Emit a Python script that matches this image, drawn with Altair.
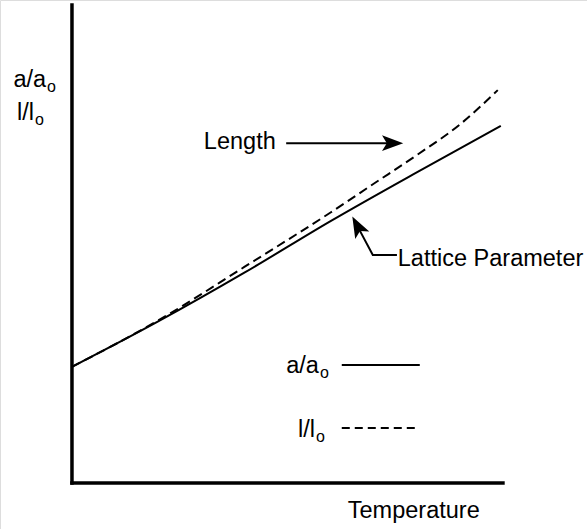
import altair as alt
import pandas as pd

# ---- data (arbitrary units) ----
temp_lattice = [0, 20, 40, 60, 80, 99.5]
lattice = [24.3, 33.8, 44.0, 54.8, 65.0, 74.7]
temp_length = [0, 20, 40, 60, 70, 80, 90, 98.8]
length = [24.3, 34.0, 45.2, 56.6, 62.6, 68.6, 75.0, 82.2]

XDOM = [-16.7, 119.5]
YDOM = [-9.62, 101.05]
FONT = "Liberation Sans"
FS = 23.5
SUB = 16

xs = alt.Scale(domain=XDOM, nice=False, zero=False)
ys = alt.Scale(domain=YDOM, nice=False, zero=False)
X = lambda f: alt.X(f, type="quantitative", scale=xs, axis=None)
Y = lambda f: alt.Y(f, type="quantitative", scale=ys, axis=None)

df_lat = pd.DataFrame({"T": temp_lattice, "V": lattice})
df_len = pd.DataFrame({"T": temp_length, "V": length})

solid = alt.Chart(df_lat).mark_line(color="black", strokeWidth=2, interpolate="monotone").encode(
    x=X("T"), y=Y("V"))
dashed = alt.Chart(df_len).mark_line(color="black", strokeWidth=2, strokeDash=[9, 5],
                                     interpolate="monotone").encode(x=X("T"), y=Y("V"))

# axes as rules
axes_df = pd.DataFrame({"x1": [0, 0], "x2": [0, 100], "y1": [0, 0], "y2": [100, 0]})
axes = alt.Chart(axes_df).mark_rule(color="black", strokeWidth=3.5, strokeCap="square").encode(
    x=X("x1"), x2="x2", y=Y("y1"), y2="y2")

# legend samples
leg_df = pd.DataFrame({"x1": [62.6], "x2": [80.7], "y": [24.7]})
leg_solid = alt.Chart(leg_df).mark_rule(color="black", strokeWidth=2).encode(
    x=X("x1"), x2="x2", y=Y("y"))
leg_df2 = pd.DataFrame({"x1": [62.6], "x2": [80.7], "y": [11.5]})
leg_dash = alt.Chart(leg_df2).mark_rule(color="black", strokeWidth=2, strokeDash=[8, 5]).encode(
    x=X("x1"), x2="x2", y=Y("y"))

# Length arrow
len_arrow_df = pd.DataFrame({"x1": [49.7], "x2": [74.5], "y": [71.1]})
len_arrow = alt.Chart(len_arrow_df).mark_rule(color="black", strokeWidth=2).encode(
    x=X("x1"), x2="x2", y=Y("y"))

HEAD = "M 1 0 L -1 -0.75 L -0.55 0 L -1 0.75 Z"
heads_df = pd.DataFrame({"T": [74.4, 66.2], "V": [71.1, 53.8], "ang": [0, 242]})
heads = alt.Chart(heads_df).mark_point(shape=HEAD, filled=True, color="black", opacity=1,
                                       size=450, strokeWidth=0).encode(
    x=X("T"), y=Y("V"), angle=alt.Angle("ang:Q", scale=None))

# Lattice parameter leader
lead_df = pd.DataFrame({"T": [66.2, 69.8, 75.4], "V": [53.8, 47.7, 47.7], "o": [0, 1, 2]})
leader = alt.Chart(lead_df).mark_line(color="black", strokeWidth=2).encode(
    x=X("T"), y=Y("V"), order="o:O")

# left-aligned labels
lab_df = pd.DataFrame({
    "T": [30.6, 75.6, 64.0],
    "V": [69.9, 45.4, -7.3],
    "txt": ["Length", "Lattice Parameter", "Temperature"],
})
labels = alt.Chart(lab_df).mark_text(align="left", baseline="alphabetic", font=FONT,
                                     fontSize=FS, color="black").encode(
    x=X("T"), y=Y("V"), text="txt:N")

# ratio labels with subscript
ratio_df = pd.DataFrame({
    "T": [-6.0, -8.8, 57.3, 56.4],
    "V": [82.8, 75.9, 23.0, 9.6],
    "txt": ["a/a", "l/l", "a/a", "l/l"],
})
ratio = alt.Chart(ratio_df).mark_text(align="right", baseline="alphabetic", font=FONT,
                                      fontSize=FS, color="black").encode(
    x=X("T"), y=Y("V"), text="txt:N")
sub = alt.Chart(ratio_df.assign(s="o")).mark_text(align="left", baseline="alphabetic", font=FONT,
                                                  fontSize=SUB, color="black", dx=1, dy=5).encode(
    x=X("T"), y=Y("V"), text="s:N")

chart = alt.layer(axes, solid, dashed, leg_solid, leg_dash, len_arrow, leader, heads,
                  labels, ratio, sub).properties(
    width=587, height=529, autosize=alt.AutoSizeParams(type="none"),
    padding=0,
).configure_view(stroke=None).configure(background="white")

chart.save("out.html", embed_options={"renderer": "svg", "actions": False})
